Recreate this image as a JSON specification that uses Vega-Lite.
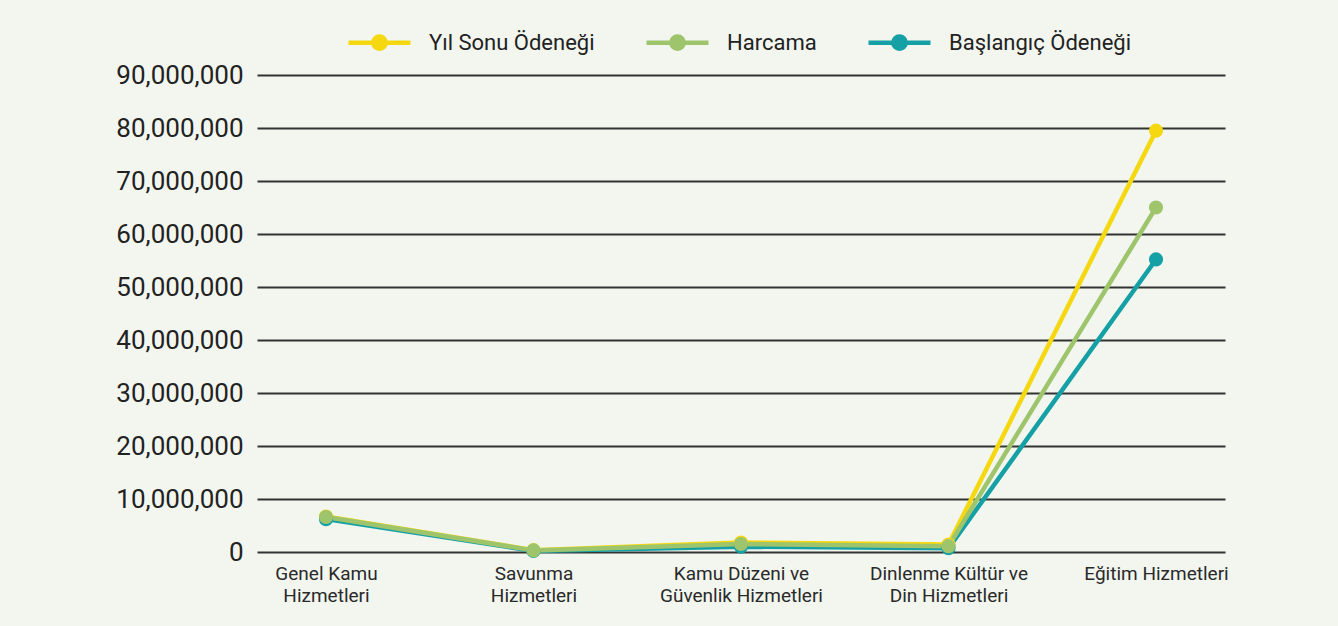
{
  "$schema": "https://vega.github.io/schema/vega-lite/v6.json",
  "width": 968,
  "height": 477,
  "autosize": "none",
  "padding": {"left": 257, "top": 75, "right": 113, "bottom": 74},
  "background": "#f2f6ef",
  "data": {
    "values": [
      {"kategori": "Genel Kamu Hizmetleri", "seri": "Yıl Sonu Ödeneği", "tutar": 6700000},
      {"kategori": "Savunma Hizmetleri", "seri": "Yıl Sonu Ödeneği", "tutar": 350000},
      {"kategori": "Kamu Düzeni ve Güvenlik Hizmetleri", "seri": "Yıl Sonu Ödeneği", "tutar": 1800000},
      {"kategori": "Dinlenme Kültür ve Din Hizmetleri", "seri": "Yıl Sonu Ödeneği", "tutar": 1400000},
      {"kategori": "Eğitim Hizmetleri", "seri": "Yıl Sonu Ödeneği", "tutar": 79500000},
      {"kategori": "Genel Kamu Hizmetleri", "seri": "Başlangıç Ödeneği", "tutar": 6200000},
      {"kategori": "Savunma Hizmetleri", "seri": "Başlangıç Ödeneği", "tutar": 200000},
      {"kategori": "Kamu Düzeni ve Güvenlik Hizmetleri", "seri": "Başlangıç Ödeneği", "tutar": 1000000},
      {"kategori": "Dinlenme Kültür ve Din Hizmetleri", "seri": "Başlangıç Ödeneği", "tutar": 700000},
      {"kategori": "Eğitim Hizmetleri", "seri": "Başlangıç Ödeneği", "tutar": 55200000},
      {"kategori": "Genel Kamu Hizmetleri", "seri": "Harcama", "tutar": 6600000},
      {"kategori": "Savunma Hizmetleri", "seri": "Harcama", "tutar": 300000},
      {"kategori": "Kamu Düzeni ve Güvenlik Hizmetleri", "seri": "Harcama", "tutar": 1500000},
      {"kategori": "Dinlenme Kültür ve Din Hizmetleri", "seri": "Harcama", "tutar": 1100000},
      {"kategori": "Eğitim Hizmetleri", "seri": "Harcama", "tutar": 65000000}
    ]
  },
  "mark": {"type": "line", "strokeWidth": 4.5, "point": {"size": 200, "filled": true, "opacity": 1}},
  "encoding": {
    "x": {
      "field": "kategori",
      "type": "nominal",
      "sort": null,
      "scale": {"type": "point", "padding": 0.3325},
      "axis": {
        "title": null,
        "domain": false,
        "ticks": false,
        "grid": false,
        "labelAngle": 0,
        "labelFont": "Roboto",
        "labelFontSize": 19,
        "labelColor": "#2a2a2a",
        "labelPadding": 12,
        "labelLineHeight": 22,
        "labelLimit": 0,
        "labelExpr": "datum.value == 'Genel Kamu Hizmetleri' ? ['Genel Kamu', 'Hizmetleri'] : datum.value == 'Savunma Hizmetleri' ? ['Savunma', 'Hizmetleri'] : datum.value == 'Kamu Düzeni ve Güvenlik Hizmetleri' ? ['Kamu Düzeni ve', 'Güvenlik Hizmetleri'] : datum.value == 'Dinlenme Kültür ve Din Hizmetleri' ? ['Dinlenme Kültür ve', 'Din Hizmetleri'] : datum.value"
      }
    },
    "y": {
      "field": "tutar",
      "type": "quantitative",
      "scale": {"domain": [0, 90000000], "nice": false},
      "axis": {
        "title": null,
        "values": [0, 10000000, 20000000, 30000000, 40000000, 50000000, 60000000, 70000000, 80000000, 90000000],
        "format": ",d",
        "domain": false,
        "ticks": false,
        "grid": true,
        "gridColor": "#333333",
        "gridWidth": 2.2,
        "gridOpacity": 1,
        "labelFont": "Roboto",
        "labelFontSize": 26,
        "labelColor": "#222222",
        "labelPadding": 14
      }
    },
    "color": {
      "field": "seri",
      "type": "nominal",
      "scale": {
        "domain": ["Yıl Sonu Ödeneği", "Harcama", "Başlangıç Ödeneği"],
        "range": ["#f5d80f", "#9ec46c", "#15a0a6"]
      },
      "legend": {
        "title": null,
        "orient": "none",
        "direction": "horizontal",
        "legendX": 89,
        "legendY": -66,
        "symbolType": "M-1,0L1,0M0.2,0A0.2,0.2,0,1,1,-0.2,0A0.2,0.2,0,1,1,0.2,0Z",
        "symbolSize": 3844,
        "symbolStrokeWidth": 4.5,
        "labelFont": "Roboto",
        "labelFontSize": 22,
        "labelColor": "#222222",
        "labelOffset": 16,
        "labelLimit": 0,
        "columnPadding": 42,
        "encode": {
          "symbols": {"update": {"fill": {"scale": "color", "field": "value"}}}
        }
      }
    }
  },
  "config": {"view": {"stroke": null}}
}
